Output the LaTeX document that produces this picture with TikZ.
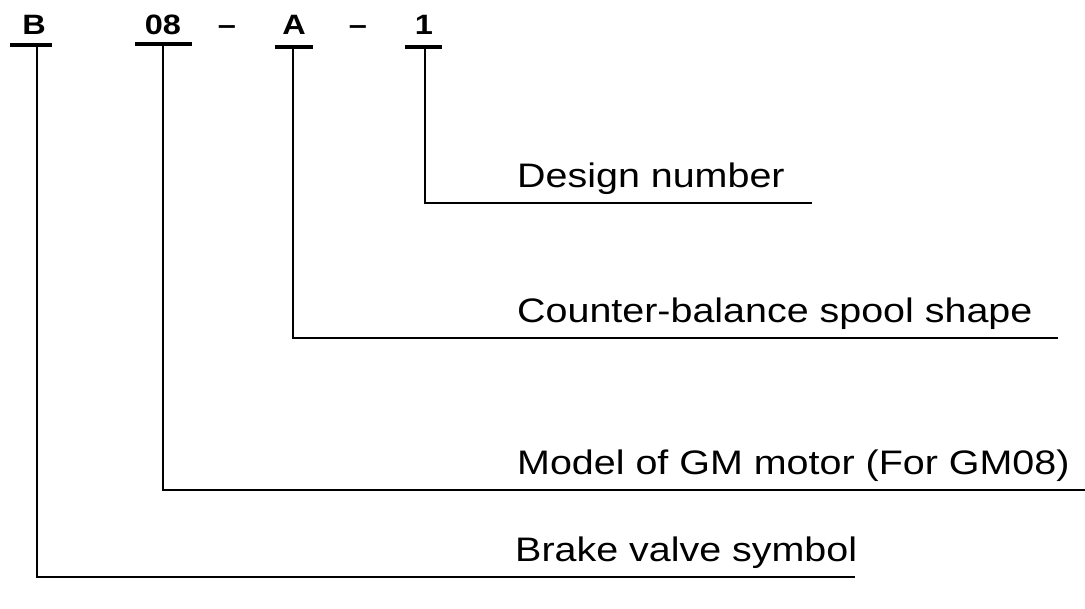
\documentclass[tikz,border=0pt]{standalone}
\usepackage{fontspec}
\newfontfamily\partfont[FakeStretch=1.16]{Liberation Sans}
\usetikzlibrary{calc}

\tikzset{
  code/.style={font=\partfont\bfseries\fontsize{28}{28}\selectfont, anchor=base, inner sep=0pt},
  legend/.style={font=\partfont\fontsize{34}{34}\selectfont, anchor=base west, inner sep=0pt},
  bar/.style={line width=3.5pt},
  lead/.style={line width=2.2pt},
}

\begin{document}
\begin{tikzpicture}[x=1pt, y=1pt]
\useasboundingbox (0,0) rectangle (1085,609);

% ===== Code letters =====
\node[code] (b)    at (34,574)  {B};
\node[code] (gm)   at (163,574) {08};
\node[code] (dash1) at (227,574) {–};
\node[code] (a)    at (294,574) {A};
\node[code] (dash2) at (358,574) {–};
\node[code] (one)  at (424,574) {1};

% underline bars
\draw[bar] (10,564)  -- (52,564);
\draw[bar] (135,565) -- (192,565);
\draw[bar] (275,562) -- (313,562);
\draw[bar] (405,562) -- (442,562);

\coordinate (bbar)   at (37,564);
\coordinate (gmbar)  at (163,565);
\coordinate (abar)   at (293,562);
\coordinate (onebar) at (425,562);

% ===== Legends =====
\node[legend] (design)  at (517,421) {Design number};
\node[legend] (counter) at (517,286) {Counter-balance spool shape};
\node[legend] (model)   at (517,134) {Model of GM motor (For GM08)};
\node[legend] (brake)   at (515,47)  {Brake valve symbol};

\coordinate (designend)  at (812,406);
\coordinate (counterend) at (1058,271);
\coordinate (modelend)   at (1085,119);
\coordinate (brakeend)   at (855,32);

% ===== Leaders =====
\draw[lead] (onebar) |- (designend);
\draw[lead] (abar)   |- (counterend);
\draw[lead] (gmbar)  |- (modelend);
\draw[lead] (bbar)   |- (brakeend);

\end{tikzpicture}
\end{document}
